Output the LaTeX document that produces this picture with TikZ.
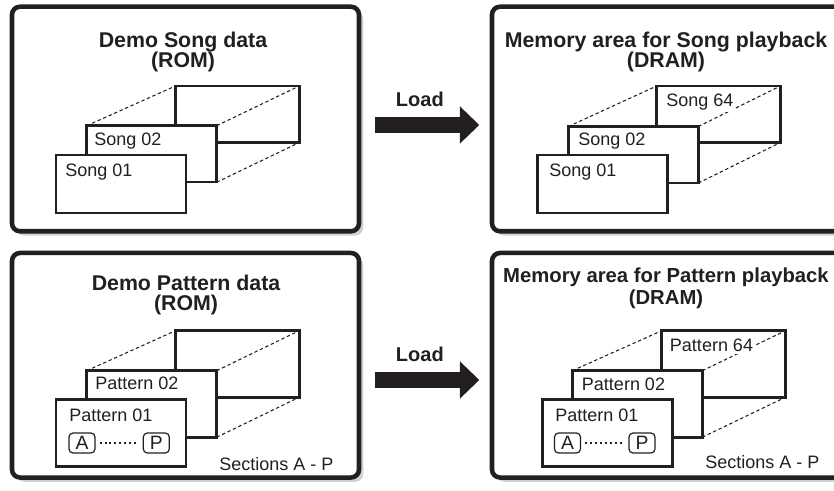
\documentclass[tikz,border=0pt]{standalone}
\usepackage{fontspec}
\setmainfont{Liberation Sans}
\usetikzlibrary{arrows.meta, positioning, calc, shadows}
\definecolor{ink}{RGB}{35,31,32}

\begin{document}
\begin{tikzpicture}[x=0.75pt, y=-0.75pt,
  panel/.style={draw=ink, line width=3.4pt, rounded corners=6pt, fill=white, inner sep=0, outer sep=0,
    minimum width=#1, minimum height=168.4pt,
    drop shadow={shadow xshift=3.2pt, shadow yshift=-3.2pt, opacity=1, fill=black!18}},
  heading/.style={font=\bfseries\fontsize{16}{15}\selectfont, align=center, inner sep=0, anchor=north, text=ink},
  card/.style={draw=ink, line width=1.9pt, fill=white, inner sep=0, outer sep=0, anchor=north west, minimum width=97.5pt},
  rearcard/.style={card, fill=none, minimum width=92.8pt},
  lbl/.style={font=\fontsize{13.5}{16}\selectfont, text=ink, inner sep=0, anchor=base west},
  sect/.style={draw=ink, line width=0.9pt, rounded corners=3pt, minimum width=19.5pt, minimum height=15pt,
    inner sep=0, font=\fontsize{14.5}{16}\selectfont, text=ink},
  persp/.style={draw=ink, line width=0.8pt, dash pattern=on 2.5pt off 2pt},
  sectdots/.style={draw=ink, line width=0.8pt, dash pattern=on 1.5pt off 2.2pt, shorten <=3pt, shorten >=3pt},
  loadarrow/.style={draw=ink, line width=12.5pt, -{Triangle[length=14.5pt, width=27pt]}},
  loadlbl/.style={font=\bfseries\fontsize{15}{18}\selectfont, text=ink, anchor=base, yshift=14pt}]
\useasboundingbox (0,0) rectangle (834,491);
\clip (0,0) rectangle (834,491);

\node[panel=260.25pt] (songrom) at (185.5,119) {};
\node[panel=262.5pt] (songdram) at (667,119) {};
\node[panel=260.25pt] (patrom) at (185.5,365.25) {};
\node[panel=262.5pt] (patdram) at (667,365.25) {};

\node[heading] (songromtitle) at (183,32) {Demo Song data\\(ROM)};
\node[heading] (songdramtitle) at (666,32) {Memory area for Song playback\\(DRAM)};
\node[heading] (patromtitle) at (186,275) {Demo Pattern data\\(ROM)};
\node[heading, font=\bfseries\fontsize{15.2}{16.5}\selectfont] (patdramtitle) at (666,268) {Memory area for Pattern playback\\(DRAM)};

\node[rearcard, minimum height=42.4pt] (srom3) at (175.5,86) {};
\node[card, minimum height=42.4pt] (srom2) at (86.7,125.7) {};
\node[card, minimum height=43.5pt] (srom1) at (56,155) {};
\draw[persp] (srom2.north west) -- (srom3.north west);
\draw[persp] (srom2.north east) -- (srom3.north east);
\draw[persp] (srom2.south east) -- (srom3.south east);
\node[lbl] (sromlbl2) at (94,145.7) {Song 02};
\node[lbl] (sromlbl1) at (65,176.7) {Song 01};

\node[rearcard, minimum height=42.4pt] (sdram3) at (656.7,86) {};
\node[card, minimum height=42.4pt] (sdram2) at (568.3,126.5) {};
\node[card, minimum height=43.5pt] (sdram1) at (537.3,155) {};
\draw[persp] (sdram2.north west) -- (sdram3.north west);
\draw[persp] (sdram2.north east) -- (sdram3.north east);
\draw[persp] (sdram2.south east) -- (sdram3.south east);
\node[lbl, fill=white, inner sep=1.5pt] (sdramlbl3) at (664,106.7) {Song 64};
\node[lbl] (sdramlbl2) at (578,145.7) {Song 02};
\node[lbl] (sdramlbl1) at (549,176.7) {Song 01};

\node[rearcard, minimum height=49.9pt] (prom3) at (175.5,330.7) {};
\node[card, minimum height=49.9pt] (prom2) at (86.7,370.7) {};
\node[card, minimum height=50.5pt] (prom1) at (56,399.3) {};
\draw[persp] (prom2.north west) -- (prom3.north west);
\draw[persp] (prom2.north east) -- (prom3.north east);
\draw[persp] (prom2.south east) -- (prom3.south east);
\node[lbl] (promlbl2) at (95,389.5) {Pattern 02};
\node[lbl] (promlbl1) at (69,421.7) {Pattern 01};
\node[sect] (promA) at (82,443) {A};
\node[sect] (promP) at (156.3,443) {P};
\draw[sectdots] (promA) -- (promP);
\node[lbl] (promsect) at (219,470) {Sections A - P};

\node[rearcard, minimum height=49.9pt] (pdram3) at (661.7,330.7) {};
\node[card, minimum height=49.9pt] (pdram2) at (572.3,370.7) {};
\node[card, minimum height=50.5pt] (pdram1) at (542.3,399.3) {};
\draw[persp] (pdram2.north west) -- (pdram3.north west);
\draw[persp] (pdram2.north east) -- (pdram3.north east);
\draw[persp] (pdram2.south east) -- (pdram3.south east);
\node[lbl, fill=white, inner sep=1.5pt] (pdramlbl3) at (667.7,351.7) {Pattern 64};
\node[lbl] (pdramlbl2) at (581.7,390.7) {Pattern 02};
\node[lbl] (pdramlbl1) at (555,421.7) {Pattern 01};
\node[sect] (pdramA) at (567.5,443) {A};
\node[sect] (pdramP) at (642,443) {P};
\draw[sectdots] (pdramA) -- (pdramP);
\node[lbl] (pdramsect) at (705,468) {Sections A - P};

\draw[loadarrow] ($(songrom.east)+(16,6)$) -- node[loadlbl, pos=0.43] {Load} ($(songdram.west)+(-12.7,6)$);
\draw[loadarrow] ($(patrom.east)+(16,14.75)$) -- node[loadlbl, pos=0.43] {Load} ($(patdram.west)+(-12.7,14.75)$);
\end{tikzpicture}
\end{document}
